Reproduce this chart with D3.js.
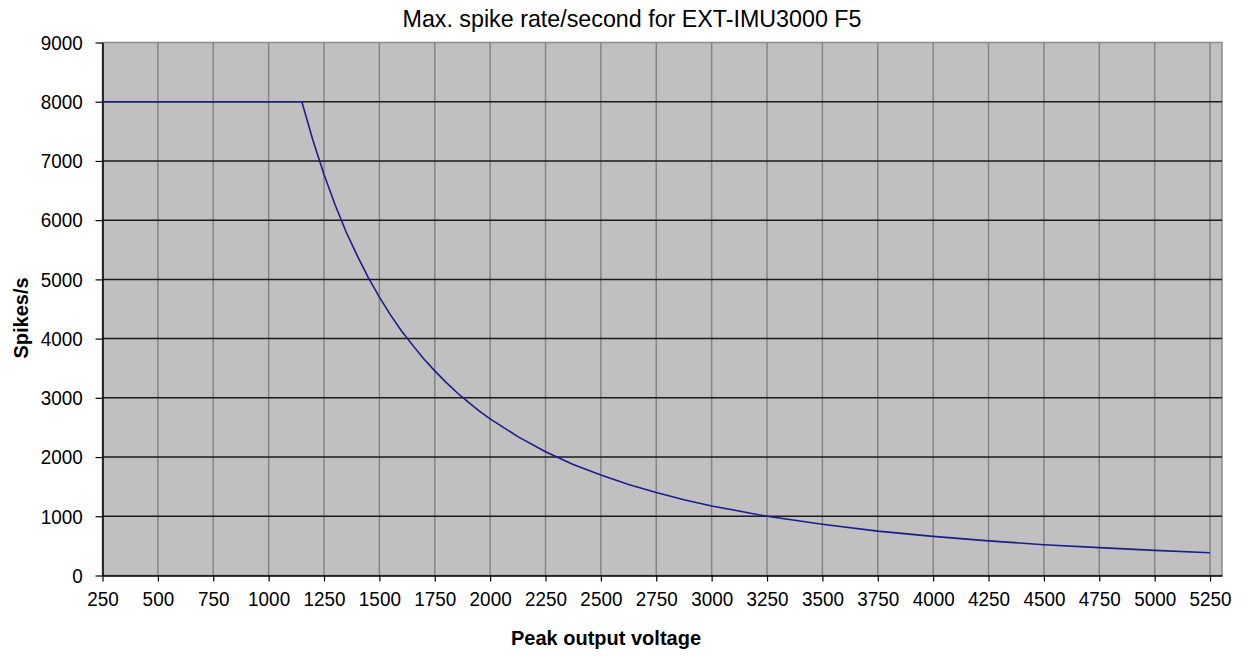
<!DOCTYPE html>
<html lang="en">
<head>
<meta charset="UTF-8">
<title>Max. spike rate/second for EXT-IMU3000 F5</title>
<style>
    body { margin: 0; background: #fff; }
    svg { display: block; }
    text { font-family: "Liberation Sans", Arial, sans-serif; fill: #000; }
</style>
</head>
<body>
<svg id="chart" width="1248" height="656"></svg>
<script src="https://d3js.org/d3.v7.min.js"></script>
<script>
    // peak output voltage (x) and max spike rate (y)
    const voltage = [250, 1150, 1200, 1250, 1300, 1350, 1400, 1450, 1500, 1550, 1600, 1650, 1700,
        1750, 1800, 1850, 1900, 1950, 2000, 2125, 2250, 2375, 2500, 2625, 2750, 2875, 3000,
        3250, 3500, 3750, 4000, 4250, 4500, 4750, 5000, 5250];
    const spikes = [8000, 8000, 7350, 6770, 6260, 5800, 5400, 5030, 4700, 4400, 4130, 3890, 3660,
        3455, 3265, 3090, 2930, 2780, 2645, 2345, 2090, 1875, 1695, 1535, 1400, 1280, 1175,
        1000, 865, 750, 660, 585, 520, 470, 425, 385];
    const xTicks = d3.range(250, 5251, 250);
    const yTicks = d3.range(0, 9001, 1000);

    const svg = d3.select("#chart");
    const plotL = 102.5, plotR = 1222, plotT = 42.5, plotB = 575.5;

    const x = d3.scaleLinear().domain([250, 5304]).range([plotL, plotR]);
    const y = d3.scaleLinear().domain([0, 9000]).range([plotB, plotT]);

    // plot background
    svg.append("rect")
        .attr("x", plotL).attr("y", plotT)
        .attr("width", plotR - plotL).attr("height", plotB - plotT)
        .attr("fill", "#c0c0c0")
        .attr("stroke", "#8a8a8a").attr("stroke-width", 1.5);

    // vertical grid (grey)
    svg.append("g").selectAll("line").data(xTicks.slice(1)).join("line")
        .attr("x1", d => x(d)).attr("x2", d => x(d))
        .attr("y1", plotT).attr("y2", plotB)
        .attr("stroke", "#858585").attr("stroke-width", 1.5);

    // horizontal grid (black)
    svg.append("g").selectAll("line").data(yTicks.slice(1, -1)).join("line")
        .attr("x1", plotL).attr("x2", plotR)
        .attr("y1", d => y(d)).attr("y2", d => y(d))
        .attr("stroke", "#1a1a1a").attr("stroke-width", 1.5);

    // axes
    const fmt = d3.format("d");
    const xAxis = svg.append("g")
        .attr("transform", `translate(0,${plotB})`)
        .call(d3.axisBottom(x).tickValues(xTicks).tickFormat(fmt)
            .tickSize(6).tickPadding(10).tickSizeOuter(0));
    const yAxis = svg.append("g")
        .attr("transform", `translate(${plotL},0)`)
        .call(d3.axisLeft(y).tickValues(yTicks).tickFormat(fmt)
            .tickSize(7).tickPadding(15).tickSizeOuter(0));

    [xAxis, yAxis].forEach(ax => {
        ax.select(".domain").attr("stroke", "#000").attr("stroke-width", 1.5);
        ax.selectAll(".tick line").attr("stroke", "#000").attr("stroke-width", 1.2);
        ax.selectAll(".tick text")
            .style("font-family", '"Liberation Sans", Arial, sans-serif')
            .style("font-size", "21px")
            .attr("fill", "#1a1a1a")
            .attr("transform", "scale(0.9,1)");
    });

    // the curve
    const pts = voltage.map((v, i) => [v, spikes[i]]);
    svg.append("path")
        .datum(pts)
        .attr("fill", "none")
        .attr("stroke", "#1c1c8c")
        .attr("stroke-width", 1.6)
        .attr("d", d3.line().x(d => x(d[0])).y(d => y(d[1])));

    // titles
    svg.append("text")
        .attr("x", 632).attr("y", 27)
        .attr("text-anchor", "middle")
        .attr("font-size", 24)
        .attr("fill", "#1a1a1a")
        .attr("transform", "translate(632,0) scale(0.97,1) translate(-632,0)")
        .text("Max. spike rate/second for EXT-IMU3000 F5");

    svg.append("text")
        .attr("x", 606).attr("y", 645)
        .attr("text-anchor", "middle")
        .attr("font-size", 20)
        .attr("font-weight", "bold")
        .attr("fill", "#1a1a1a")
        .text("Peak output voltage");

    svg.append("text")
        .attr("transform", "translate(28,318) rotate(-90)")
        .attr("text-anchor", "middle")
        .attr("font-size", 20)
        .attr("font-weight", "bold")
        .attr("fill", "#1a1a1a")
        .text("Spikes/s");
</script>
</body>
</html>
